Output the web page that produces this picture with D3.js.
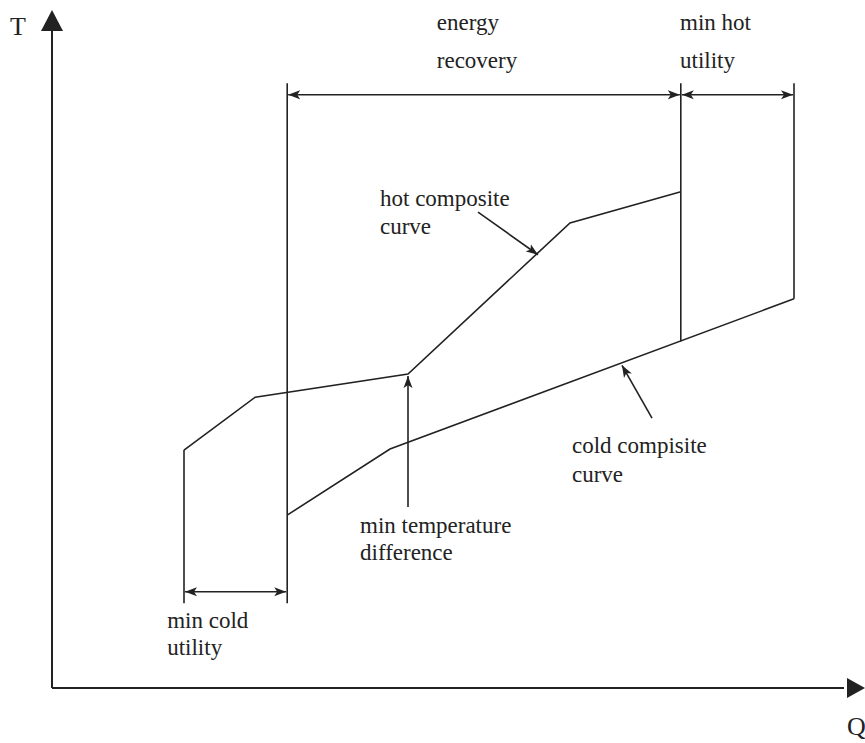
<!DOCTYPE html>
<html lang="en">
	<head>
		<meta charset="UTF-8" />
		<title>composite curves</title>
		<style>
			body { margin: 0; background: #fff; }
			text { font-family: "Liberation Serif", serif; fill: #222; }
		</style>
	</head>
	<body>
		<svg width="865" height="743" id="mainsvg"></svg>
		<script src="https://cdn.jsdelivr.net/npm/d3@7"></script>
		<script>
			// heat (Q) and temperature (T) in arbitrary units
			const hotCurve = [
				{ q: 16.5, t: 35.1 },
				{ q: 25.4, t: 42.9 },
				{ q: 44.5, t: 46.3 },
				{ q: 64.75, t: 68.6 },
				{ q: 78.6, t: 73.2 },
			]
			const coldCurve = [
				{ q: 29.4, t: 25.5 },
				{ q: 42.25, t: 35.25 },
				{ q: 92.75, t: 57.4 },
			]
			// vertical boundary lines
			const boundaries = [
				{ q: 16.5, t1: 12.5, t2: 35.1 },
				{ q: 29.4, t1: 12.5, t2: 89.2 },
				{ q: 78.6, t1: 51.1, t2: 89.2 },
				{ q: 92.75, t1: 57.4, t2: 89.2 },
			]
			// double-headed dimension arrows
			const spans = [
				{ q1: 29.4, q2: 78.6, t: 87.5 },
				{ q1: 78.6, q2: 92.75, t: 87.5 },
				{ q1: 16.5, q2: 29.4, t: 14.2 },
			]
			// pointers from label to curve
			const pointers = [
				{ q1: 53.25, t1: 70.2, q2: 60.75, t2: 63.9 },
				{ q1: 75, t1: 39.8, q2: 71.25, t2: 47.6 },
				{ q1: 44.5, t1: 26.7, q2: 44.5, t2: 46.0 },
			]
			const labels = [
				{ q: 48.1, t: 97.05, text: "energy" },
				{ q: 48.1, t: 91.45, text: "recovery" },
				{ q: 78.5, t: 97.05, text: "min hot" },
				{ q: 78.5, t: 91.45, text: "utility" },
				{ q: 41, t: 71.1, text: "hot composite" },
				{ q: 41, t: 67.0, text: "curve" },
				{ q: 65, t: 34.7, text: "cold compisite" },
				{ q: 65, t: 30.4, text: "curve" },
				{ q: 38.5, t: 22.9, text: "min temperature" },
				{ q: 38.5, t: 18.9, text: "difference" },
				{ q: 14.4, t: 8.85, text: "min cold" },
				{ q: 14.4, t: 4.87, text: "utility" },
			]

			const svg = d3.select("#mainsvg")
			const ink = "#222"

			const x = d3.scaleLinear().domain([0, 101]).range([52, 860])
			const y = d3.scaleLinear().domain([0, 100]).range([688, 10])

			const defs = svg.append("defs")
			defs.append("marker")
				.attr("id", "head")
				.attr("viewBox", "0 -5 12 10")
				.attr("refX", 12)
				.attr("refY", 0)
				.attr("markerUnits", "userSpaceOnUse")
				.attr("markerWidth", 12)
				.attr("markerHeight", 10)
				.attr("orient", "auto-start-reverse")
				.append("path")
				.attr("d", "M0,-4.5L12,0L0,4.5L3,0Z")
				.attr("fill", ink)

			// axes with big arrowheads
			svg.append("line")
				.attr("x1", x(0)).attr("y1", y(0))
				.attr("x2", x(0)).attr("y2", y(97))
				.attr("stroke", ink).attr("stroke-width", 2)
			svg.append("line")
				.attr("x1", x(0)).attr("y1", y(0))
				.attr("x2", x(99)).attr("y2", y(0))
				.attr("stroke", ink).attr("stroke-width", 2)
			svg.append("path")
				.attr("d", `M${x(0)},${y(100)}L${x(0) + 11},${y(100) + 21}L${x(0) - 11},${y(100) + 21}Z`)
				.attr("fill", ink)
			svg.append("path")
				.attr("d", `M${x(0) + 813},${y(0)}L${x(0) + 795},${y(0) - 10}L${x(0) + 795},${y(0) + 10}Z`)
				.attr("fill", ink)

			svg.append("text").attr("x", x(0) - 42).attr("y", y(100) + 25)
				.attr("font-size", 26).text("T")
			svg.append("text").attr("x", x(0) + 795).attr("y", y(0) + 47)
				.attr("font-size", 26).text("Q")

			const line = d3.line().x((d) => x(d.q)).y((d) => y(d.t))

			svg.append("path").datum(hotCurve)
				.attr("d", line).attr("fill", "none")
				.attr("stroke", ink).attr("stroke-width", 1.6)
			svg.append("path").datum(coldCurve)
				.attr("d", line).attr("fill", "none")
				.attr("stroke", ink).attr("stroke-width", 1.6)

			svg.selectAll(".bound")
				.data(boundaries)
				.join("line")
				.attr("class", "bound")
				.attr("x1", (d) => x(d.q)).attr("x2", (d) => x(d.q))
				.attr("y1", (d) => y(d.t1)).attr("y2", (d) => y(d.t2))
				.attr("stroke", ink).attr("stroke-width", 1.6)

			svg.selectAll(".span")
				.data(spans)
				.join("line")
				.attr("class", "span")
				.attr("x1", (d) => x(d.q1) + 1).attr("x2", (d) => x(d.q2) - 1)
				.attr("y1", (d) => y(d.t)).attr("y2", (d) => y(d.t))
				.attr("stroke", ink).attr("stroke-width", 1.4)
				.attr("marker-start", "url(#head)")
				.attr("marker-end", "url(#head)")

			svg.selectAll(".pointer")
				.data(pointers)
				.join("line")
				.attr("class", "pointer")
				.attr("x1", (d) => x(d.q1)).attr("y1", (d) => y(d.t1))
				.attr("x2", (d) => x(d.q2)).attr("y2", (d) => y(d.t2))
				.attr("stroke", ink).attr("stroke-width", 1.6)
				.attr("marker-end", "url(#head)")

			svg.selectAll(".label")
				.data(labels)
				.join("text")
				.attr("class", "label")
				.attr("x", (d) => x(d.q))
				.attr("y", (d) => y(d.t))
				.attr("font-size", 23)
				.text((d) => d.text)
		</script>
	</body>
</html>
